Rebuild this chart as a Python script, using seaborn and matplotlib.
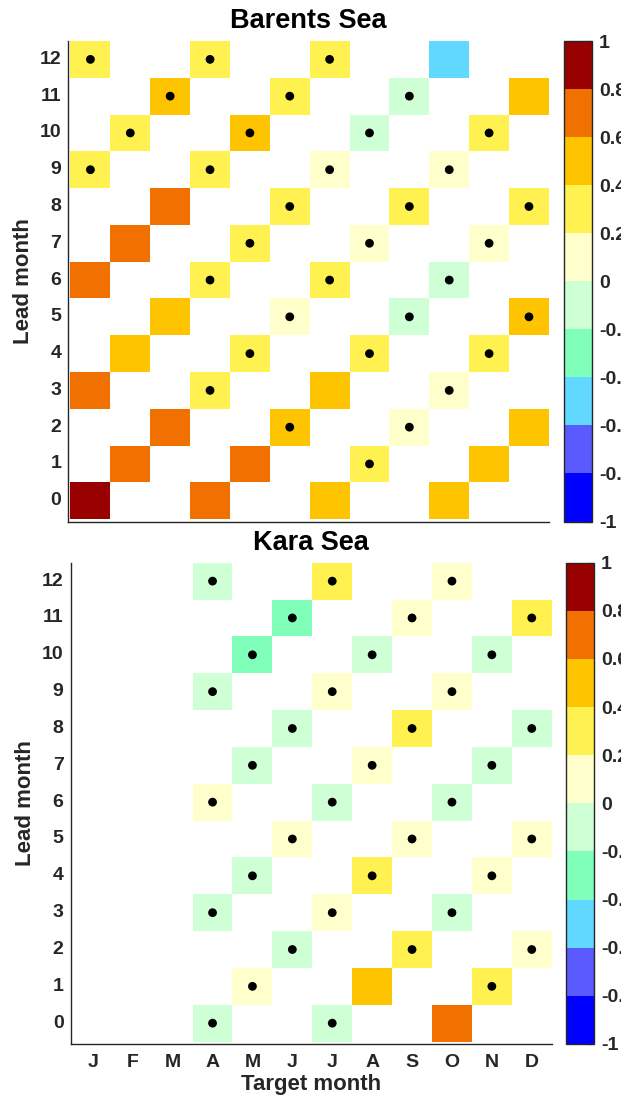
import numpy as np
import pandas as pd
import matplotlib
matplotlib.use("Agg")
import matplotlib.pyplot as plt
import seaborn as sns
from matplotlib.colors import ListedColormap

# ---------------- data ----------------
months = ["J", "F", "M", "A", "M", "J", "J", "A", "S", "O", "N", "D"]
leads = list(range(13))
nan = np.nan

# rows = lead month 0..12, columns = target month J..D
barents_vals = [
    [0.88, nan, nan, 0.71, nan, nan, 0.52, nan, nan, 0.50, nan, nan],   # 0
    [nan, 0.70, nan, nan, 0.68, nan, nan, 0.33, nan, nan, 0.51, nan],   # 1
    [nan, nan, 0.69, nan, nan, 0.45, nan, nan, 0.12, nan, nan, 0.48],   # 2
    [0.66, nan, nan, 0.30, nan, nan, 0.47, nan, nan, 0.10, nan, nan],   # 3
    [nan, 0.46, nan, nan, 0.31, nan, nan, 0.29, nan, nan, 0.32, nan],   # 4
    [nan, nan, 0.49, nan, nan, 0.14, nan, nan, -0.08, nan, nan, 0.44],  # 5
    [0.67, nan, nan, 0.28, nan, nan, 0.27, nan, nan, -0.06, nan, nan],  # 6
    [nan, 0.69, nan, nan, 0.31, nan, nan, 0.12, nan, nan, 0.09, nan],   # 7
    [nan, nan, 0.70, nan, nan, 0.33, nan, nan, 0.29, nan, nan, 0.30],   # 8
    [0.30, nan, nan, 0.26, nan, nan, 0.11, nan, nan, 0.08, nan, nan],   # 9
    [nan, 0.28, nan, nan, 0.45, nan, nan, -0.07, nan, nan, 0.31, nan],  # 10
    [nan, nan, 0.43, nan, nan, 0.27, nan, nan, -0.09, nan, nan, 0.47],  # 11
    [0.32, nan, nan, 0.29, nan, nan, 0.26, nan, nan, -0.50, nan, nan],  # 12
]
barents_dots = [
    [], [7], [5, 8], [3, 9], [4, 7, 10], [5, 8, 11], [3, 6, 9],
    [4, 7, 10], [5, 8, 11], [0, 3, 6, 9], [1, 4, 7, 10], [2, 5, 8], [0, 3, 6],
]

kara_vals = [
    [nan, nan, nan, -0.08, nan, nan, -0.10, nan, nan, 0.70, nan, nan],  # 0
    [nan, nan, nan, nan, 0.12, nan, nan, 0.48, nan, nan, 0.30, nan],    # 1
    [nan, nan, nan, nan, nan, -0.05, nan, nan, 0.31, nan, nan, 0.10],   # 2
    [nan, nan, nan, -0.09, nan, nan, 0.08, nan, nan, -0.07, nan, nan],  # 3
    [nan, nan, nan, nan, -0.10, nan, nan, 0.33, nan, nan, 0.11, nan],   # 4
    [nan, nan, nan, nan, nan, 0.09, nan, nan, 0.12, nan, nan, 0.07],    # 5
    [nan, nan, nan, 0.10, nan, nan, -0.06, nan, nan, -0.08, nan, nan],  # 6
    [nan, nan, nan, nan, -0.07, nan, nan, 0.06, nan, nan, -0.09, nan],  # 7
    [nan, nan, nan, nan, nan, -0.05, nan, nan, 0.34, nan, nan, -0.06],  # 8
    [nan, nan, nan, -0.11, nan, nan, 0.09, nan, nan, 0.11, nan, nan],   # 9
    [nan, nan, nan, nan, -0.27, nan, nan, -0.08, nan, nan, -0.05, nan], # 10
    [nan, nan, nan, nan, nan, -0.29, nan, nan, 0.08, nan, nan, 0.30],   # 11
    [nan, nan, nan, -0.10, nan, nan, 0.32, nan, nan, 0.07, nan, nan],   # 12
]
kara_dots = [
    [3, 6], [4, 10], [5, 8, 11], [3, 6, 9], [4, 7, 10], [5, 8, 11], [3, 6, 9],
    [4, 7, 10], [5, 8, 11], [3, 6, 9], [4, 7, 10], [5, 8, 11], [3, 6, 9],
]

cbar_ticks = [-1, -0.8, -0.6, -0.4, -0.2, 0, 0.2, 0.4, 0.6, 0.8, 1]
cbar_ticklabels = ["-1", "-0.8", "-0.6", "-0.4", "-0.2", "0", "0.2", "0.4", "0.6", "0.8", "1"]

level_colors = ["#0000FF", "#5A5AFF", "#60D8FF", "#80FFBB", "#CFFFD4",
                "#FFFFCC", "#FFF150", "#FFC400", "#F07000", "#990000"]

# ---------------- style ----------------
sns.set_style("white")
plt.rcParams["font.family"] = ["Liberation Sans", "DejaVu Sans"]
plt.rcParams["font.weight"] = "bold"
GRAY = "#262626"

cmap = ListedColormap(level_colors)

W, H = 621, 1095
fig = plt.figure(figsize=(W / 100, H / 100), dpi=100)


def box(l, t, r, b):
    return [l / W, 1 - b / H, (r - l) / W, (b - t) / H]


panels = [
    dict(title="Barents Sea", vals=barents_vals, dots=barents_dots,
         ax=box(68.1, 41, 548.9, 521.5), cax=box(563.5, 41, 592, 521.5), xlabels=False),
    dict(title="Kara Sea", vals=kara_vals, dots=kara_dots,
         ax=box(70.5, 562.7, 551.7, 1044), cax=box(566.3, 562.7, 594, 1044), xlabels=True),
]

for p in panels:
    ax = fig.add_axes(p["ax"])
    cax = fig.add_axes(p["cax"])
    df = pd.DataFrame(p["vals"], index=leads, columns=range(12))
    df = df.iloc[::-1]  # lead 12 at top
    sns.heatmap(df, ax=ax, cbar_ax=cax, cmap=cmap, vmin=-1, vmax=1,
                xticklabels=months, yticklabels=list(df.index), linewidths=0)

    # significance dots
    xs, ys = [], []
    for lead, cols in enumerate(p["dots"]):
        for c in cols:
            xs.append(c + 0.5)
            ys.append(12 - lead + 0.5)
    ax.scatter(xs, ys, s=40, color="black", edgecolors="none", zorder=3)

    ax.set_xlim(-0.06, 12)
    ax.set_ylim(13.065, 0)
    for side in ["left", "bottom"]:
        ax.spines[side].set_visible(True)
        ax.spines[side].set_color(GRAY)
        ax.spines[side].set_linewidth(1.0)
    for side in ["top", "right"]:
        ax.spines[side].set_visible(False)

    ax.tick_params(axis="both", direction="in", length=4, width=0.8, color=GRAY,
                   labelcolor=GRAY, labelsize=14)
    ax.tick_params(axis="y", pad=5, rotation=0)
    ax.tick_params(axis="x", pad=7, rotation=0)
    for lbl in ax.get_yticklabels() + ax.get_xticklabels():
        lbl.set_fontweight("bold")
    if not p["xlabels"]:
        ax.set_xticklabels([])
        ax.set_xlabel("")
    else:
        ax.set_xlabel("Target month", fontsize=16, fontweight="bold", color=GRAY)
        ax.xaxis.set_label_coords(0.5, -0.062)

    ax.set_ylabel("Lead month", fontsize=16, fontweight="bold", color=GRAY, va="center")
    ax.yaxis.set_label_coords(-0.093, 0.5)
    ax.set_title(p["title"], fontsize=19.5, fontweight="bold", color="black", pad=9)

    cb = ax.collections[0].colorbar
    cb.set_ticks(cbar_ticks)
    cb.set_ticklabels(cbar_ticklabels)
    cb.outline.set_visible(True)
    cb.outline.set_linewidth(1.0)
    cb.outline.set_edgecolor(GRAY)
    cax.tick_params(direction="in", length=4, width=0.8, color=GRAY, labelcolor=GRAY,
                    labelsize=14, pad=5)
    for lbl in cax.get_yticklabels():
        lbl.set_fontweight("bold")

fig.savefig("out.png", dpi=100)
